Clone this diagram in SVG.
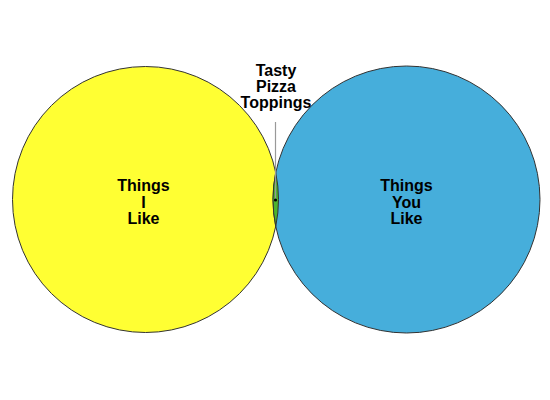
<svg xmlns="http://www.w3.org/2000/svg" width="550" height="400" viewBox="0 0 550 400">
<style>
.lbl{font-family:"Liberation Sans",Arial,sans-serif;font-weight:bold;font-size:16px;text-anchor:middle;fill:#000}
.set{stroke:#333;stroke-width:1}
</style>
<rect width="550" height="400" fill="#fff"/>
<g id="node-me">
<circle class="set" cx="145.5" cy="199.5" r="133" fill="#FFFF33"/>
</g>
<g id="node-you">
<circle class="set" cx="406.5" cy="199.5" r="133.5" fill="#46AEDB"/>
</g>
<g id="node-overlap">
<path class="set" d="M275.75 172.6 A133 133 0 0 1 275.75 226.4 A133.5 133.5 0 0 1 275.75 172.6 Z" fill="#4DB32E"/>
</g>
<g id="labels-me">
<text class="lbl" x="143.5" y="191">Things</text>
<text class="lbl" x="143.5" y="207.5">I</text>
<text class="lbl" x="143.5" y="223.5">Like</text>
</g>
<g id="labels-you">
<text class="lbl" x="406.5" y="191">Things</text>
<text class="lbl" x="406.5" y="207.5">You</text>
<text class="lbl" x="406.5" y="223.5">Like</text>
</g>
<g id="connectors">
<line x1="275.5" y1="122" x2="275.5" y2="200" stroke="#999" stroke-width="1.2"/>
<circle cx="275.5" cy="200" r="1.6" fill="#000"/>
</g>
<g id="label-overlap">
<text class="lbl" x="276" y="75.5">Tasty</text>
<text class="lbl" x="276" y="91.5">Pizza</text>
<text class="lbl" x="276" y="107.5">Toppings</text>
</g>
</svg>
